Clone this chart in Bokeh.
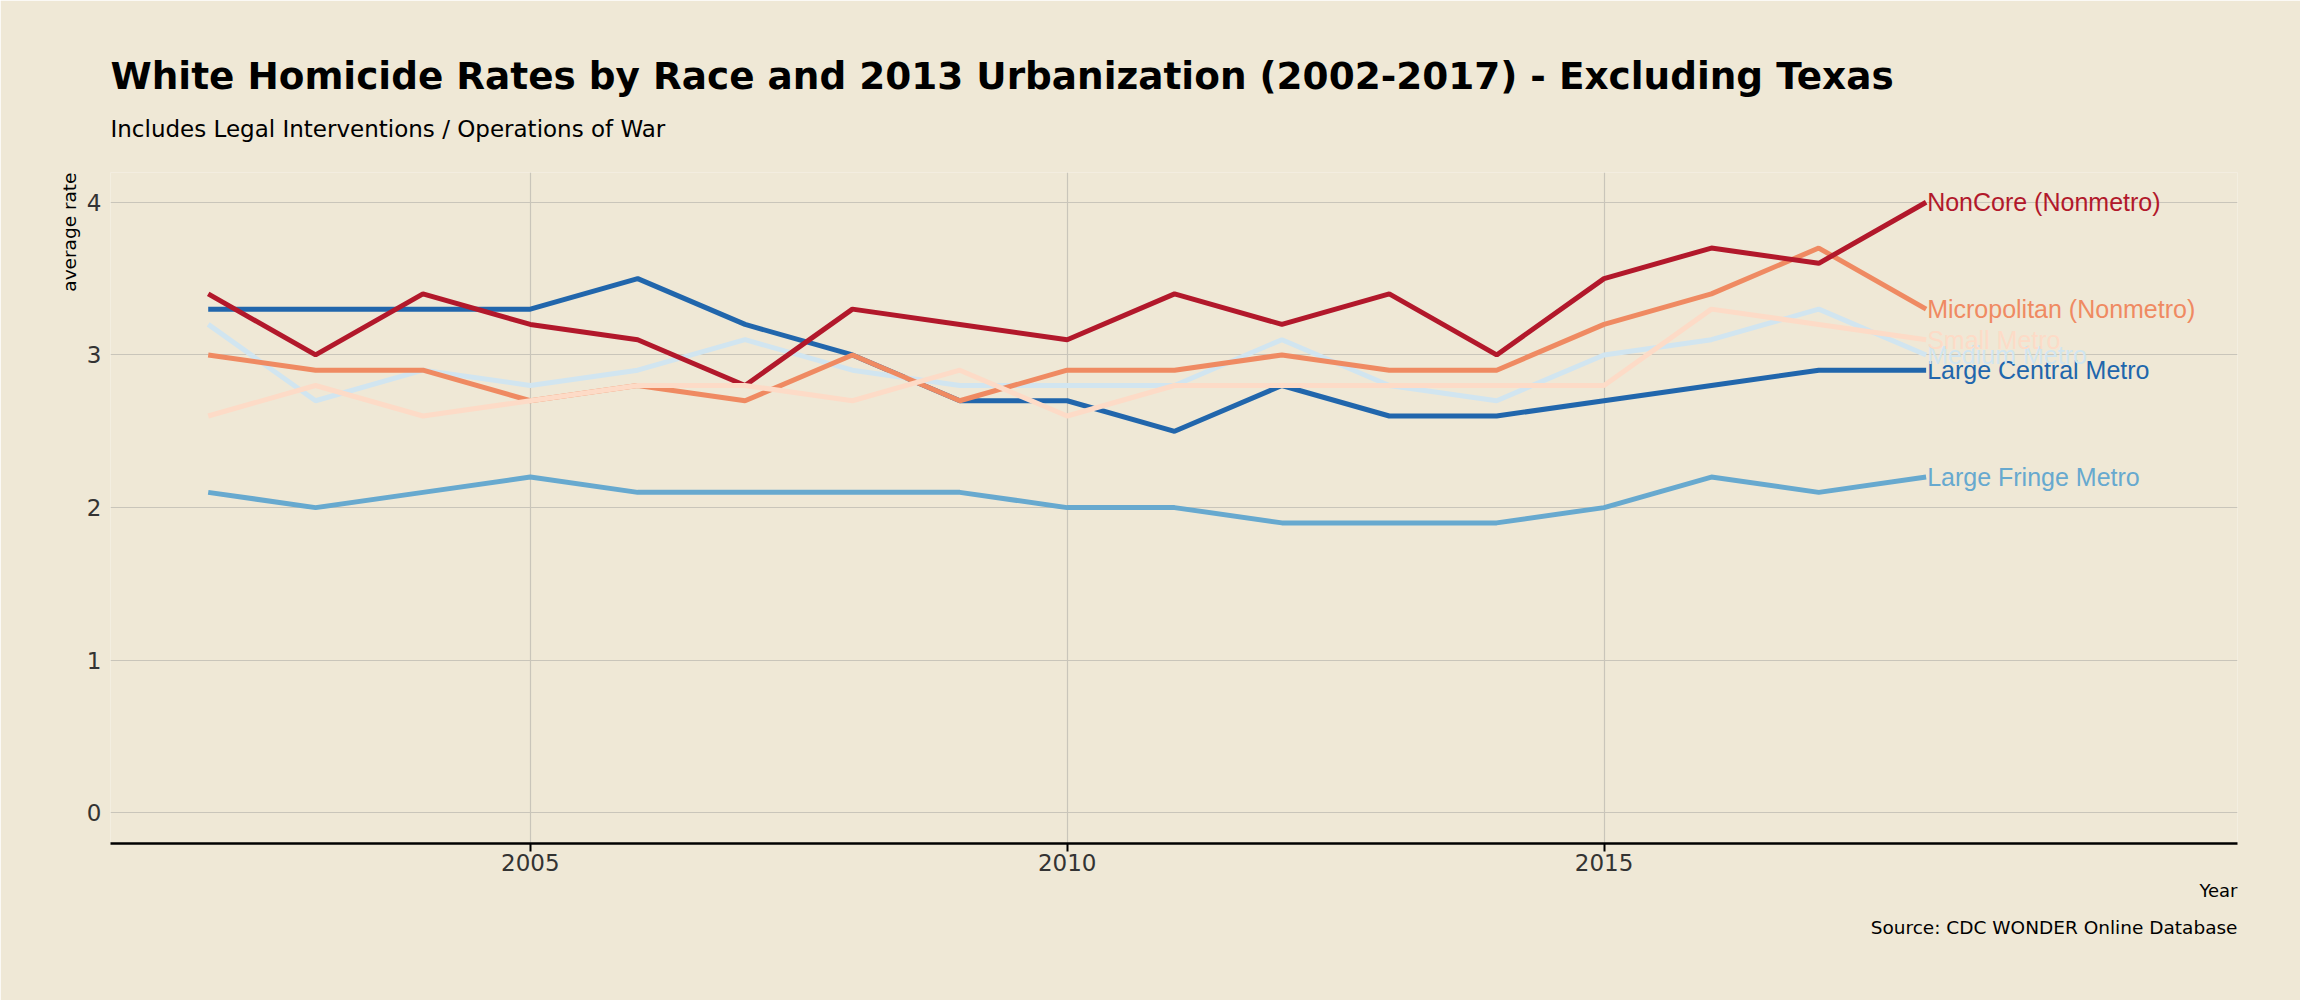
from bokeh.plotting import figure
from bokeh.models import Range1d, FixedTicker, Title, ColumnDataSource
from bokeh.core.properties import value
from bokeh.embed import file_html
from bokeh.resources import INLINE

years = list(range(2002, 2019))

series_names = [
    "Large Central Metro",
    "Large Fringe Metro",
    "Medium Metro",
    "Micropolitan (Nonmetro)",
    "NonCore (Nonmetro)",
    "Small Metro",
]

large_central = [3.3, 3.3, 3.3, 3.3, 3.5, 3.2, 3.0, 2.7, 2.7, 2.5, 2.8, 2.6, 2.6, 2.7, 2.8, 2.9, 2.9]
large_fringe = [2.1, 2.0, 2.1, 2.2, 2.1, 2.1, 2.1, 2.1, 2.0, 2.0, 1.9, 1.9, 1.9, 2.0, 2.2, 2.1, 2.2]
medium_metro = [3.2, 2.7, 2.9, 2.8, 2.9, 3.1, 2.9, 2.8, 2.8, 2.8, 3.1, 2.8, 2.7, 3.0, 3.1, 3.3, 3.0]
micropolitan = [3.0, 2.9, 2.9, 2.7, 2.8, 2.7, 3.0, 2.7, 2.9, 2.9, 3.0, 2.9, 2.9, 3.2, 3.4, 3.7, 3.3]
noncore = [3.4, 3.0, 3.4, 3.2, 3.1, 2.8, 3.3, 3.2, 3.1, 3.4, 3.2, 3.4, 3.0, 3.5, 3.7, 3.6, 4.0]
small_metro = [2.6, 2.8, 2.6, 2.7, 2.8, 2.8, 2.7, 2.9, 2.6, 2.8, 2.8, 2.8, 2.8, 2.8, 3.3, 3.2, 3.1]

series_values = [large_central, large_fringe, medium_metro, micropolitan, noncore, small_metro]
series_colors = ["#2166ac", "#67a9cf", "#d1e5f0", "#ef8a62", "#b2182b", "#fddbc7"]

y_ticks = [0, 1, 2, 3, 4]
x_ticks = [2005, 2010, 2015]

BG = "#efe8d6"
GRID = "#c9c5ba"

p = figure(
    width=2300, height=1000,
    output_backend="svg", toolbar_location=None,
    x_range=Range1d(2001.09, 2020.9), y_range=Range1d(-0.2, 4.195),
    min_border_left=110, min_border_right=63, min_border_top=172, min_border_bottom=157,
    background_fill_color=BG, border_fill_color=BG,
)
p.outline_line_color = None

# axes
p.xaxis.ticker = FixedTicker(ticks=x_ticks)
p.yaxis.ticker = FixedTicker(ticks=y_ticks)
p.xaxis.minor_tick_line_color = None
p.yaxis.minor_tick_line_color = None
p.yaxis.axis_line_color = None
p.yaxis.major_tick_line_color = None
p.yaxis.major_tick_out = 0
p.yaxis.major_tick_in = 0
p.yaxis.major_label_standoff = 9
p.xaxis.axis_line_color = "black"
p.xaxis.axis_line_width = 2.5
p.xaxis.major_tick_line_color = "black"
p.xaxis.major_tick_line_width = 2
p.xaxis.major_tick_out = 8
p.xaxis.major_tick_in = 0
p.xaxis.major_label_standoff = 2
for ax in (p.xaxis, p.yaxis):
    ax.major_label_text_font = "DejaVu Sans"
    ax.major_label_text_font_size = "23px"
    ax.major_label_text_color = "#333333"

p.xgrid.grid_line_color = GRID
p.ygrid.grid_line_color = GRID
p.xgrid.grid_line_width = 1.2
p.ygrid.grid_line_width = 1.2

# lines
for name, vals, col in zip(series_names, series_values, series_colors):
    p.line(years, vals, line_color=col, line_width=5)

# end labels
end_src = ColumnDataSource(dict(
    x=[years[-1]] * len(series_names),
    y=[v[-1] for v in series_values],
    text=series_names,
    color=series_colors,
))
p.text(x="x", y="y", text="text", source=end_src, text_color="color",
       text_font=value("Liberation Sans"), text_font_size="25px",
       text_baseline="middle", text_align="left", x_offset=1)

# titles (above: first added is closest to the frame)
p.add_layout(Title(text="Includes Legal Interventions / Operations of War",
                   text_font="DejaVu Sans", text_font_size="23px", text_font_style="normal",
                   text_color="black", align="left", standoff=62), "above")
p.add_layout(Title(text="White Homicide Rates by Race and 2013 Urbanization (2002-2017) - Excluding Texas",
                   text_font="DejaVu Sans", text_font_size="37.4px", text_font_style="bold",
                   text_color="black", align="left", standoff=-30), "above")

# y axis label at the top of the axis
p.add_layout(Title(text="average rate", text_font="DejaVu Sans", text_font_size="18.5px",
                   text_font_style="normal", text_color="black", align="right",
                   standoff=7), "left")

# x label and source at the bottom right
p.add_layout(Title(text="Year", text_font="DejaVu Sans", text_font_size="18px",
                   text_font_style="normal", text_color="black", align="right",
                   standoff=9), "below")
p.add_layout(Title(text="Source: CDC WONDER Online Database", text_font="DejaVu Sans",
                   text_font_size="18.5px", text_font_style="normal", text_color="black",
                   align="right", standoff=18), "below")

open("out.html", "w").write(file_html(p, INLINE))
